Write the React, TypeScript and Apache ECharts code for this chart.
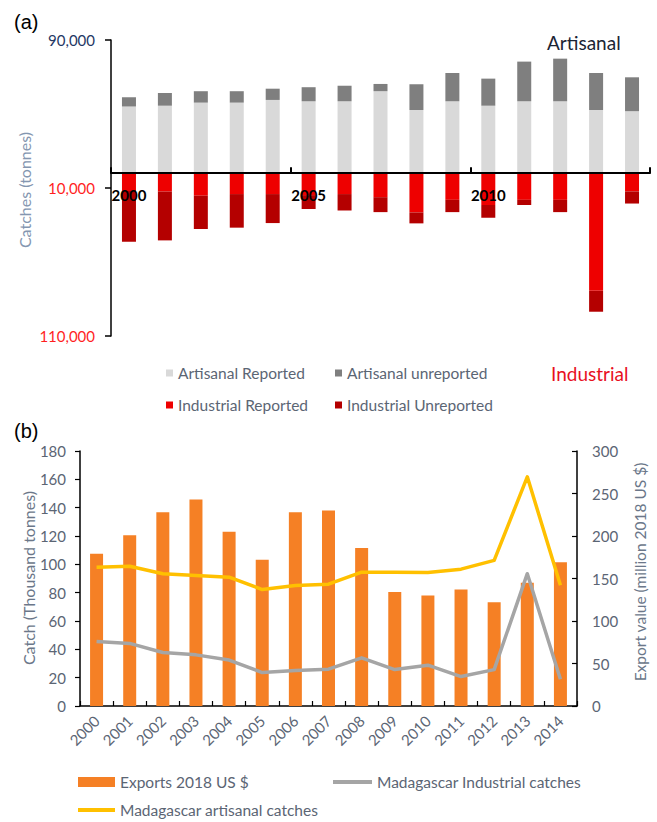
import React, { useEffect, useRef } from "react";
import * as echarts from "echarts";

const years = ["2000", "2001", "2002", "2003", "2004", "2005", "2006", "2007", "2008", "2009", "2010", "2011", "2012", "2013", "2014"];

// Panel (a): catches in tonnes
const artisanalReported = [45000, 45600, 47700, 47700, 49500, 48600, 48600, 55400, 42700, 48600, 45600, 48600, 48600, 42700, 41900];
const artisanalUnreported = [6300, 8600, 7700, 7700, 7600, 9500, 10500, 4900, 17400, 19100, 18300, 26800, 28800, 25000, 22900];
const industrialReported = [12000, 12400, 15200, 14100, 14100, 14800, 14100, 16200, 26500, 18000, 21500, 18000, 18000, 79500, 12300];
const industrialUnreported = [34300, 33000, 22500, 22700, 19600, 9400, 11100, 10100, 7400, 8300, 8600, 3500, 8300, 14100, 8200];

// Panel (b)
const exports2018 = [179, 201, 228, 243, 205, 172, 228, 230, 186, 134, 130, 137, 122, 145, 169];
const industrialCatches = [45.6, 44.2, 37.8, 36.1, 32.4, 23.6, 25.0, 26.0, 34.0, 25.7, 28.8, 20.8, 25.7, 93.4, 18.9];
const artisanalCatches = [98.0, 98.7, 93.3, 92.1, 90.9, 82.2, 85.0, 86.0, 94.5, 94.5, 94.3, 96.6, 102.8, 161.8, 85.2];

const FONT = "Lato";
const GRAY_TXT = "#5b6574";

// panel (a) geometry
const A_TOP = 40;
const A_BOTTOM = 486;
const A_MIN = -110000;
const A_MAX = 90000;
const A_HEIGHT = 822 - A_TOP - A_BOTTOM;
const A_ZERO_OFFSET = -(A_HEIGHT * (0 - A_MIN)) / (A_MAX - A_MIN);

function fmtThousands(v: number): string {
  return Math.abs(v).toLocaleString("en-US");
}

function legendItem(name: string, left: number, top: number, w: number, h: number, fontSize: number) {
  return {
    data: [name],
    left,
    top,
    orient: "horizontal",
    padding: 0,
    itemWidth: w,
    itemHeight: h,
    icon: "rect",
    selectedMode: false,
    textStyle: { fontSize, color: GRAY_TXT, fontFamily: FONT },
  };
}

function buildOption(): any {
  return {
    animation: false,
    backgroundColor: "#ffffff",
    grid: [
      { left: 111, right: 7, top: A_TOP, bottom: A_BOTTOM },
      { left: 80, right: 80, top: 451, bottom: 116 },
    ],
    xAxis: [
      {
        type: "category",
        gridIndex: 0,
        data: years,
        position: "bottom",
        offset: A_ZERO_OFFSET,
        z: 5,
        axisLine: { onZero: false, lineStyle: { color: "#000", width: 2 } },
        axisTick: { show: true, inside: true, length: 6, interval: 4, lineStyle: { color: "#000", width: 2 } },
        axisLabel: { interval: 4, margin: 14, fontSize: 15, fontWeight: "bold", color: "#000", fontFamily: FONT },
        splitLine: { show: false },
      },
      {
        type: "category",
        gridIndex: 1,
        data: years,
        axisLine: { lineStyle: { color: "#000", width: 1.5 } },
        axisTick: { show: true, inside: true, length: 5, lineStyle: { color: "#000", width: 1.2 } },
        axisLabel: { rotate: 45, interval: 0, margin: 12, fontSize: 15, color: GRAY_TXT, fontFamily: FONT },
        splitLine: { show: false },
      },
    ],
    yAxis: [
      {
        type: "value",
        gridIndex: 0,
        min: A_MIN,
        max: A_MAX,
        interval: 100000,
        axisLine: { show: true, lineStyle: { color: "#000", width: 1.5 } },
        axisTick: { show: true, length: 6, lineStyle: { color: "#000", width: 1.5 } },
        splitLine: { show: false },
        axisLabel: {
          margin: 16,
          formatter: (v: number) => (v >= 0 ? `{p|${fmtThousands(v)}}` : `{n|${fmtThousands(v)}}`),
          rich: {
            p: { color: "#1f3864", fontSize: 15, fontFamily: FONT },
            n: { color: "#ff1f1f", fontSize: 15, fontFamily: FONT },
          },
        },
      },
      {
        type: "value",
        gridIndex: 1,
        position: "left",
        min: 0,
        max: 180,
        interval: 20,
        axisLine: { show: true, lineStyle: { color: "#000", width: 1.5 } },
        axisTick: { show: true, length: 5, lineStyle: { color: "#000", width: 1.2 } },
        splitLine: { show: false },
        axisLabel: { margin: 14, fontSize: 15, color: GRAY_TXT, fontFamily: FONT },
      },
      {
        type: "value",
        gridIndex: 1,
        position: "right",
        min: 0,
        max: 300,
        interval: 50,
        axisLine: { show: true, lineStyle: { color: "#000", width: 1.5 } },
        axisTick: { show: true, inside: true, length: 5, lineStyle: { color: "#000", width: 1.2 } },
        splitLine: { show: false },
        axisLabel: { margin: 15, fontSize: 15, color: GRAY_TXT, fontFamily: FONT },
      },
    ],
    legend: [
      legendItem("Artisanal Reported", 166, 365, 7, 7, 15.5),
      legendItem("Artisanal unreported", 335, 365, 7, 7, 15.5),
      legendItem("Industrial Reported", 166, 397, 7, 7, 15.5),
      legendItem("Industrial Unreported", 335, 397, 7, 7, 15.5),
      legendItem("Exports 2018 US $", 78, 774, 37, 10, 15.5),
      legendItem("Madagascar Industrial catches", 333, 774, 39, 4, 15.5),
      legendItem("Madagascar artisanal catches", 78, 802, 37, 4, 15.5),
    ],
    series: [
      {
        name: "Artisanal Reported",
        type: "bar",
        xAxisIndex: 0,
        yAxisIndex: 0,
        stack: "a",
        barWidth: 14,
        itemStyle: { color: "#d9d9d9" },
        data: artisanalReported,
      },
      {
        name: "Artisanal unreported",
        type: "bar",
        xAxisIndex: 0,
        yAxisIndex: 0,
        stack: "a",
        barWidth: 14,
        itemStyle: { color: "#7f7f7f" },
        data: artisanalUnreported,
      },
      {
        name: "Industrial Reported",
        type: "bar",
        xAxisIndex: 0,
        yAxisIndex: 0,
        stack: "a",
        barWidth: 14,
        itemStyle: { color: "#ee0000" },
        data: industrialReported.map((v) => -v),
      },
      {
        name: "Industrial Unreported",
        type: "bar",
        xAxisIndex: 0,
        yAxisIndex: 0,
        stack: "a",
        barWidth: 14,
        itemStyle: { color: "#b40000" },
        data: industrialUnreported.map((v) => -v),
      },
      {
        name: "Exports 2018 US $",
        type: "bar",
        xAxisIndex: 1,
        yAxisIndex: 2,
        barWidth: 13,
        itemStyle: { color: "#f58025" },
        data: exports2018,
      },
      {
        name: "Madagascar Industrial catches",
        type: "line",
        xAxisIndex: 1,
        yAxisIndex: 1,
        symbol: "none",
        lineStyle: { color: "#a5a5a5", width: 3.5, join: "round" },
        itemStyle: { color: "#a5a5a5" },
        data: industrialCatches,
      },
      {
        name: "Madagascar artisanal catches",
        type: "line",
        xAxisIndex: 1,
        yAxisIndex: 1,
        symbol: "none",
        lineStyle: { color: "#ffc000", width: 3.5, join: "round" },
        itemStyle: { color: "#ffc000" },
        data: artisanalCatches,
      },
    ],
    graphic: [
      { type: "text", x: 14, y: 22, style: { text: "(a)", fontSize: 20, fontFamily: "Liberation Sans", fill: "#000", align: "left", verticalAlign: "middle" } },
      { type: "text", x: 14, y: 431, style: { text: "(b)", fontSize: 20, fontFamily: "Liberation Sans", fill: "#000", align: "left", verticalAlign: "middle" } },
      { type: "text", x: 547, y: 42, style: { text: "Artisanal", fontSize: 19, fontFamily: FONT, fill: "#1b2433", align: "left", verticalAlign: "middle" } },
      { type: "text", x: 551, y: 373, style: { text: "Industrial", fontSize: 19, fontFamily: FONT, fill: "#e8101e", align: "left", verticalAlign: "middle" } },
      { type: "text", x: 24, y: 190, rotation: Math.PI / 2, style: { text: "Catches (tonnes)", fontSize: 16, fontFamily: FONT, fill: "#8496b0", align: "center", verticalAlign: "middle" } },
      { type: "text", x: 28, y: 578, rotation: Math.PI / 2, style: { text: "Catch (Thousand tonnes)", fontSize: 16, fontFamily: FONT, fill: "#6b7789", align: "center", verticalAlign: "middle" } },
      { type: "text", x: 640, y: 572, rotation: Math.PI / 2, style: { text: "Export value (million 2018 US $)", fontSize: 15.5, fontFamily: FONT, fill: "#6b7789", align: "center", verticalAlign: "middle" } },
    ],
  };
}

export default function App() {
  const ref = useRef<HTMLDivElement>(null);
  useEffect(() => {
    if (!ref.current) return;
    const chart = echarts.init(ref.current, null, { renderer: "svg" });
    chart.setOption(buildOption());
    return () => {
      chart.dispose();
    };
  }, []);
  return <div ref={ref} style={{ position: "absolute", left: 0, top: 0, width: 657, height: 822 }} />;
}
